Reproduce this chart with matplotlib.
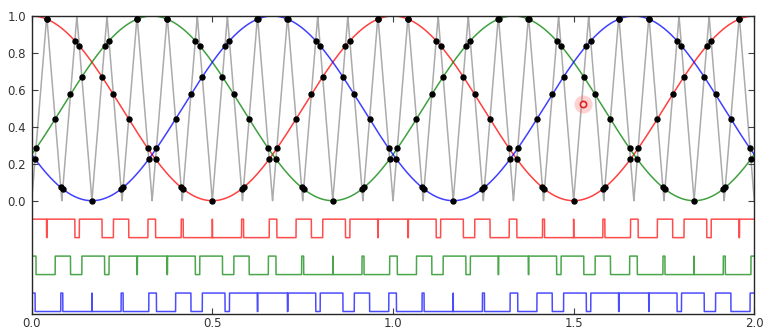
import numpy as np
import matplotlib
matplotlib.use("Agg")
import matplotlib.pyplot as plt

# three phase-shifted channels compared against a triangle carrier (PWM)
x_range = [0.0, 2.0]
signal_period = 1.0
phases = [0.0, 1.0 / 3.0, 2.0 / 3.0]     # fraction of one period
channel_colors = ["r", "g", "b"]
carrier_cycles = 24                      # triangle cycles across x_range
yticks = [0.0, 0.2, 0.4, 0.6, 0.8, 1.0]
xticks = [0.0, 0.5, 1.0, 1.5, 2.0]

n = 48001
x = np.linspace(x_range[0], x_range[1], n)
span = x_range[1] - x_range[0]
tpos = (x - x_range[0]) / span * carrier_cycles
tri = 1.0 - np.abs(1.0 - 2.0 * (tpos - np.floor(tpos)))   # 0 at valleys, 1 at peaks

fig = plt.figure(figsize=(7.64, 3.31), dpi=100)
ax = fig.add_axes([0.0415, 0.0505, 0.9458, 0.9012])

ax.plot(x, tri, color="0.45", alpha=0.6, lw=1.1, zorder=1)

valleys = x_range[0] + np.arange(carrier_cycles + 1) * span / carrier_cycles

for i, (ph, col) in enumerate(zip(phases, channel_colors)):
    sig = 0.5 + 0.5 * np.cos(2 * np.pi * (x / signal_period - ph))
    ax.plot(x, sig, color=col, alpha=0.75, lw=1.1, zorder=2)

    # crossings of the signal with the carrier
    d = sig - tri
    idx = np.where(np.sign(d[:-1]) * np.sign(d[1:]) < 0)[0]
    xc = x[idx] - d[idx] * (x[idx + 1] - x[idx]) / (d[idx + 1] - d[idx])
    yc = 0.5 + 0.5 * np.cos(2 * np.pi * (xc / signal_period - ph))
    # points where the signal touches a carrier valley
    sv = 0.5 + 0.5 * np.cos(2 * np.pi * (valleys / signal_period - ph))
    touch = valleys[sv < 1e-6]
    xc = np.concatenate([xc, touch])
    yc = np.concatenate([yc, np.zeros(len(touch))])
    ax.plot(xc, yc, "o", color="k", ms=3.6, mec="k", zorder=3)

    # pwm output, stacked below the plot
    hi = -0.1 - 0.2 * i
    lo = hi - 0.1
    on = d >= -1e-9
    ax.plot(x, np.where(on, hi, lo), color=col, alpha=0.7, lw=1.1, zorder=2)

# click marker
ax.plot([1.526], [0.526], "o", ms=13, color="#ff6b6b", alpha=0.3, mec="none", zorder=4)
ax.plot([1.526], [0.526], "o", ms=4.5, mfc="#ffd0d0", mec="#e02020", mew=1.2, zorder=5)

ax.set_xlim(x_range)
ax.set_ylim(-0.615, 1.0)
ax.set_xticks(xticks)
ax.set_yticks(yticks)
ax.set_xticklabels(["%.1f" % v for v in xticks])
ax.set_yticklabels(["%.1f" % v for v in yticks])
ax.tick_params(direction="in", top=True, right=True, labelsize=8.5, length=4, pad=4, width=0.8,
               colors="0.25", labelcolor="0.2")
ax.tick_params(axis="x", pad=2)
for s in ax.spines.values():
    s.set_linewidth(1.0)
    s.set_color("0.15")

fig.savefig("out.png", dpi=100, facecolor="white")
